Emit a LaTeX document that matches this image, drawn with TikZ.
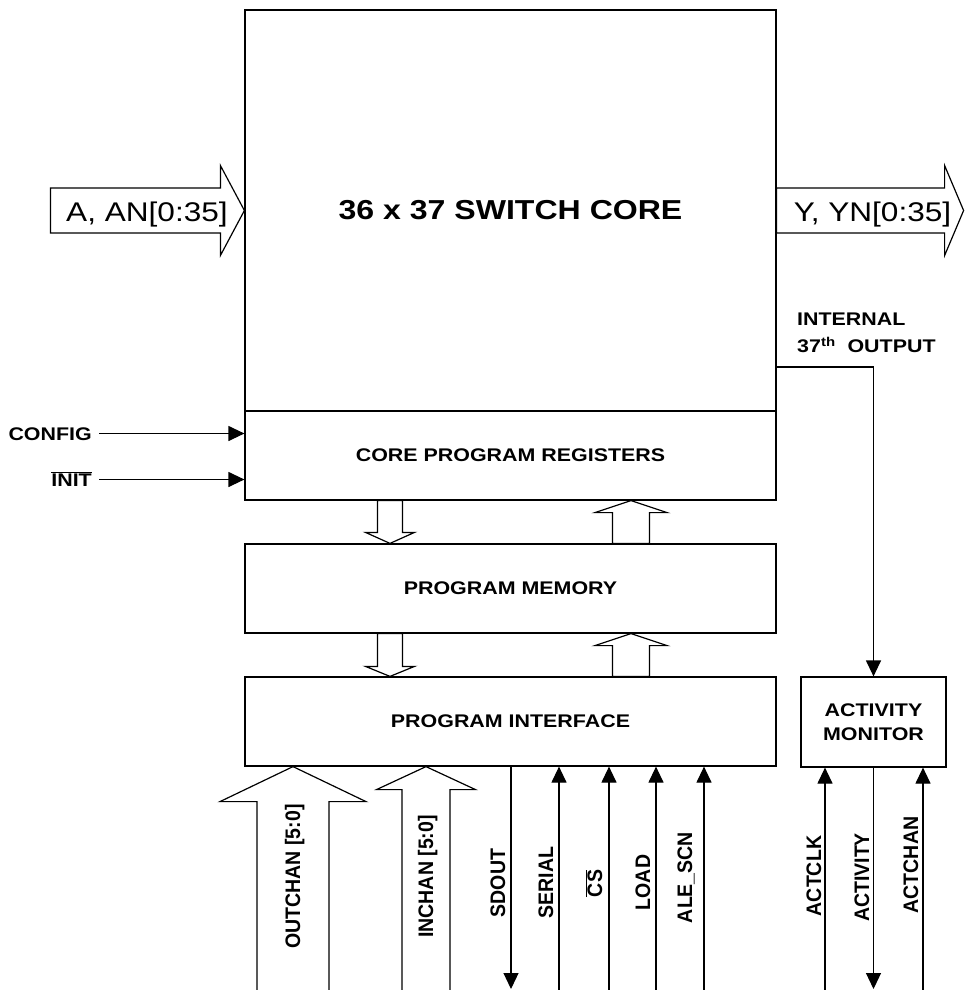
\documentclass[tikz,border=0pt]{standalone}
\usepackage{fontspec}
\setmainfont{Liberation Sans}
\newfontfamily\widefont[FakeStretch=1.17]{Liberation Sans}
\newfontfamily\narrowfont[FakeStretch=0.93]{Liberation Sans}
\usetikzlibrary{arrows.meta,calc}
\tikzset{
  >={Triangle[length=16pt,width=15pt]},
  block/.style={draw, line width=1.2pt, inner sep=0pt, align=center,
    minimum width=531pt, minimum height=89pt,
    font=\widefont\bfseries\fontsize{18.3}{24.5}\selectfont},
  coretitle/.style={font=\widefont\bfseries\fontsize{27.4}{32}\selectfont},
  bus/.style={draw, fill=white, line width=1.2pt, line join=miter},
  bustext/.style={inner sep=0pt, font=\widefont\fontsize{27}{32}\selectfont},
  sig/.style={->, line width=1.2pt},
  pinlabel/.style={inner xsep=7pt, inner ysep=0pt, text height=13pt, text depth=0pt,
    font=\widefont\bfseries\fontsize{18.3}{27}\selectfont},
  vlabel/.style={rotate=90, anchor=base, inner sep=0pt,
    font=\narrowfont\bfseries\fontsize{21}{24}\selectfont}
}
% block arrow: tail, tip, half shaft, half head, head length
\newcommand{\busarrow}[5]{%
  \coordinate (ba) at #1;
  \coordinate (bt) at #2;
  \coordinate (bh) at ($(bt)!#5!(ba)$);
  \draw[bus] ($(ba)!#3!90:(bt)$) -- ($(bh)!#3!90:(bt)$) -- ($(bh)!#4!90:(bt)$) -- (bt)
    -- ($(bh)!#4!-90:(bt)$) -- ($(bh)!#3!-90:(bt)$) -- ($(ba)!#3!-90:(bt)$) -- cycle;
}

\begin{document}
\begin{tikzpicture}[x=1pt,y=-1pt]
\useasboundingbox (0,0) rectangle (964,990);

% Core and program blocks.
\node[block, coretitle, minimum height=401pt] (core) at (510.5,210.5) {36 x 37 SWITCH CORE};
\node[block] (cpr) at (510.5,455.5) {CORE PROGRAM REGISTERS};
\node[block] (pmem) at (510.5,588.5) {PROGRAM MEMORY};
\node[block] (pif) at (510.5,721.5) {PROGRAM INTERFACE};
\node[block, minimum width=145pt, minimum height=90pt] (actmon) at (873.5,722) {ACTIVITY\\MONITOR};

% Data buses in and out of the core.
\busarrow{($(core.west)+(-194,0)$)}{(core.west)}{22.5pt}{45pt}{24pt}
\node[bustext, anchor=base] (ain) at (147,221.5) {A, AN[0:35]};
\busarrow{(core.east)}{($(core.east)+(187,0)$)}{22.5pt}{45pt}{19pt}
\node[bustext, anchor=base] (yout) at (872.5,221.5) {Y, YN[0:35]};

% Register control inputs.
\node[pinlabel, anchor=base east] (config) at (99,440) {CONFIG};
\node[pinlabel, anchor=base east] (init) at (99,486) {$\overline{\mbox{INIT}}$};
\draw[sig] (config.east) -- (config.east -| cpr.west);
\draw[sig] (init.east) -- (init.east -| cpr.west);

% Internal 37th output to the activity monitor.
\coordinate (int37) at (core.east |- 0,367);
\draw[sig] (int37) -| (actmon.north);
\node[pinlabel, align=left, anchor=north west, text height=, text depth=, inner sep=0pt] (intlab) at (797,313)
  {INTERNAL\\37\textsuperscript{th}\ \ OUTPUT};

% Buses between the program blocks.
\busarrow{(390,0 |- cpr.south)}{(390,0 |- pmem.north)}{12.5pt}{24.5pt}{11pt}
\busarrow{(631,0 |- pmem.north)}{(631,0 |- cpr.south)}{18.5pt}{36pt}{12pt}
\busarrow{(390,0 |- pmem.south)}{(390,0 |- pif.north)}{12.5pt}{24.5pt}{10pt}
\busarrow{(631,0 |- pif.north)}{(631,0 |- pmem.south)}{18.5pt}{36pt}{12pt}

% Channel select buses.
\busarrow{(293,994)}{(293,0 |- pif.south)}{36pt}{73pt}{35pt}
\busarrow{(426,994)}{(426,0 |- pif.south)}{24pt}{49.5pt}{23pt}
\node[vlabel] (outchanlab) at (300,876.5) {OUTCHAN [5:0]};
\node[vlabel] (inchanlab) at (433,876.5) {INCHAN [5:0]};

% Serial interface pins.
\coordinate (sdoutpin) at (511,989);
\draw[sig] (sdoutpin |- pif.south) -- (sdoutpin);
\foreach \pin/\x in {serial/559,cs/609,load/656,ale/704} {
  \coordinate (\pin pin) at (\x,990);
  \draw[sig] (\pin pin) -- (\pin pin |- pif.south);
}
\node[vlabel] (sdoutlab) at (505,883) {SDOUT};
\node[vlabel] (seriallab) at (553,882.5) {SERIAL};
\node[vlabel] (cslab) at (602,883.5) {$\overline{\mbox{CS}}$};
\node[vlabel] (loadlab) at (650,882.5) {LOAD};
\node[vlabel] (alelab) at (692,877.5) {ALE\_SCN};

% Activity monitor pins.
\coordinate (actclkpin) at (825,990);
\coordinate (actchanpin) at (923,990);
\coordinate (activitypin) at (actmon.south |- 0,989);
\draw[sig] (actclkpin) -- (actclkpin |- actmon.south);
\draw[sig] (actchanpin) -- (actchanpin |- actmon.south);
\draw[sig] (actmon.south) -- (activitypin);
\node[vlabel] (actclklab) at (821,876) {ACTCLK};
\node[vlabel] (activitylab) at (869,877.5) {ACTIVITY};
\node[vlabel] (actchanlab) at (918,865) {ACTCHAN};
\end{tikzpicture}
\end{document}
